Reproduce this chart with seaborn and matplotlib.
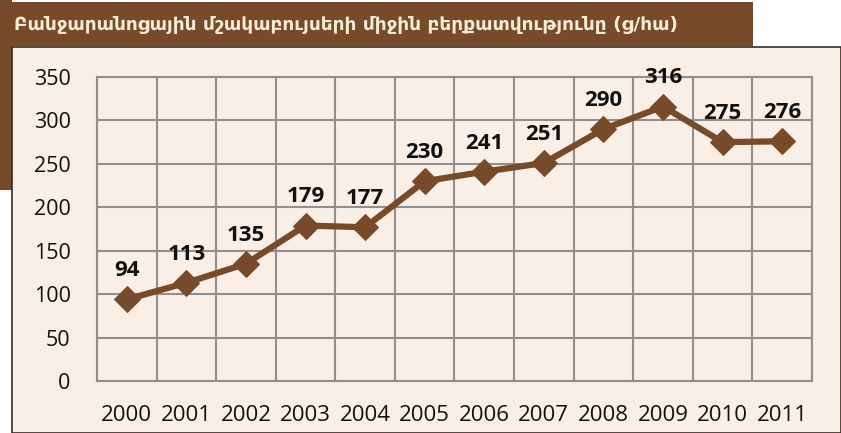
import matplotlib
matplotlib.use('Agg')
import matplotlib.pyplot as plt
import matplotlib.patches as mpatches
import numpy as np
import pandas as pd
import seaborn as sns

years = ['2000', '2001', '2002', '2003', '2004', '2005', '2006', '2007', '2008', '2009', '2010', '2011']
yield_values = [94, 113, 135, 179, 177, 230, 241, 251, 290, 316, 275, 276]
title = 'Բանջարանոցային մշակաբույսերի միջին բերքատվությունը (ց/հա)'

brown = '#774b2a'
panel_bg = '#faefe7'
grid_col = '#8f8f8f'

df = pd.DataFrame({'pos': np.arange(len(years)), 'value': yield_values})

sns.set_style('white')
plt.rcParams['font.family'] = ['Open Sans', 'DejaVu Sans']

fig = plt.figure(figsize=(8.41, 4.33), dpi=100)
fig.patch.set_facecolor('white')

# brown title bar + left strip, beige panel
W, H = 841, 433
fig.patches.append(mpatches.Rectangle((0, (H - 46) / H), 753 / W, 44 / H, transform=fig.transFigure,
                                      facecolor=brown, edgecolor='none', zorder=-3))
fig.patches.append(mpatches.Rectangle((0, (H - 190) / H), 12 / W, 190 / H, transform=fig.transFigure,
                                      facecolor=brown, edgecolor='none', zorder=-3))
fig.patches.append(mpatches.Rectangle((12 / W, 0), 1 - 12 / W, (H - 47) / H, transform=fig.transFigure,
                                      facecolor=panel_bg, edgecolor='#3a2a20', linewidth=1.2, zorder=-2))
fig.text(14 / W, (H - 25) / H, title, color='#f5ecd6', fontsize=13.3, fontweight='bold',
         family=['DejaVu Sans'], va='center', ha='left')

ax = fig.add_axes([97 / W, (H - 381) / H, (812 - 97) / W, (381 - 77) / H])
ax.set_zorder(2)
ax.set_facecolor(panel_bg)

sns.lineplot(data=df, x='pos', y='value', ax=ax, color=brown, linewidth=4.5,
             marker='D', markersize=13, markeredgecolor=brown, zorder=3)

for x, v in zip(df['pos'], df['value']):
    ax.annotate(str(v), (x, v), xytext=(0, 13), textcoords='offset points',
                ha='center', va='bottom', fontsize=16, fontweight='bold', color='#111111')

ax.set_xlim(-0.5, len(years) - 0.5)
ax.set_ylim(0, 350)
ax.set_xticks(np.arange(len(years)))
ax.set_xticklabels(years)
ax.set_xticks(np.arange(len(years) + 1) - 0.5, minor=True)
ax.set_yticks(np.arange(0, 351, 50))
ax.grid(which='minor', axis='x', color=grid_col, linewidth=1.5)
ax.grid(which='major', axis='y', color=grid_col, linewidth=1.5)
ax.grid(which='major', axis='x', visible=False)
ax.tick_params(axis='both', which='both', length=0, colors='#111111')
ax.tick_params(axis='x', pad=17, labelsize=16)
ax.tick_params(axis='y', pad=19, labelsize=15.5)
for s in ax.spines.values():
    s.set_color(grid_col)
    s.set_linewidth(1.5)
ax.set_xlabel('')
ax.set_ylabel('')

fig.savefig('out.png', dpi=100, facecolor=fig.get_facecolor())
